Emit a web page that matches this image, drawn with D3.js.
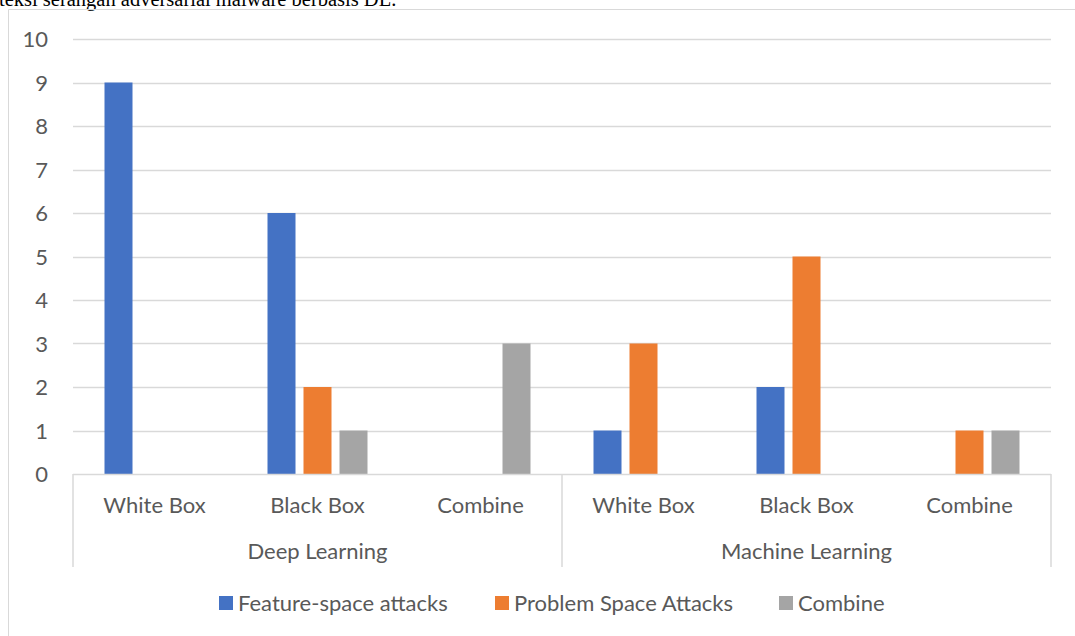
<!DOCTYPE html>
<html>
<head>
<meta charset="utf-8">
<script src="https://cdn.jsdelivr.net/npm/d3@7"></script>
<style>
  html, body { margin: 0; padding: 0; background: #fff; }
  svg { display: block; }
</style>
</head>
<body>
<svg id="chart" width="1075" height="636"></svg>
<script>
// Attack studies grouped by model family and threat model
const groups = ["Deep Learning", "Machine Learning"];
const categories = ["White Box", "Black Box", "Combine", "White Box", "Black Box", "Combine"];
const categoryGroup = [0, 0, 0, 1, 1, 1];
const seriesNames = ["Feature-space attacks", "Problem Space Attacks", "Combine"];
const featureSpace = [9, 6, 0, 1, 2, 0];
const problemSpace = [0, 2, 0, 3, 5, 1];
const combined = [0, 1, 3, 0, 0, 1];
const yTicks = [0, 1, 2, 3, 4, 5, 6, 7, 8, 9, 10];
const colors = ["#4472C4", "#ED7D31", "#A5A5A5"];

const series = [featureSpace, problemSpace, combined];

const svg = d3.select("#chart");
const font = "Lato, 'Open Sans', sans-serif";
const fontSize = 22;
const textColor = "#595959";
const lineColor = "#D9D9D9";

// caption line from the surrounding document, clipped at the top edge
svg.append("text")
  .attr("x", -1).attr("y", 6)
  .attr("font-family", "'Liberation Serif', 'Times New Roman', serif")
  .attr("font-size", 20.5)
  .attr("fill", "#000")
  .text("teksi serangan adversarial malware berbasis DL.");

// chart frame
svg.append("path")
  .attr("d", "M8.5,636 V9.5 H1075")
  .attr("fill", "none")
  .attr("stroke", lineColor)
  .attr("stroke-width", 1);

const plot = { left: 73, right: 1051, top: 39, bottom: 474 };

const x = d3.scaleBand()
  .domain(d3.range(categories.length))
  .range([plot.left, plot.right])
  .paddingInner(0).paddingOuter(0);

const y = d3.scaleLinear().domain([0, 10]).range([plot.bottom, plot.top]);

// horizontal gridlines
svg.append("g")
  .selectAll("line")
  .data(yTicks.filter(t => t > 0))
  .join("line")
  .attr("x1", plot.left).attr("x2", plot.right)
  .attr("y1", d => Math.round(y(d)) + 0.5).attr("y2", d => Math.round(y(d)) + 0.5)
  .attr("stroke", lineColor).attr("stroke-width", 1.5);

// value axis labels
const yAxis = d3.axisLeft(y).tickValues(yTicks).tickSize(0).tickPadding(0);
const yg = svg.append("g").attr("transform", `translate(${plot.left - 25},0)`).call(yAxis);
yg.select(".domain").remove();
yg.selectAll("text")
  .attr("font-family", font).attr("font-size", fontSize)
  .attr("fill", textColor).attr("text-anchor", "end").attr("dy", "0.35em");

// bars: cluster of 3, width 28, gap 8
const barW = x.bandwidth() * 28 / 163;
const step = x.bandwidth() * 36 / 163;
const clusterW = barW * 3 + (step - barW) * 2;

const barData = [];
series.forEach((vals, s) => {
  vals.forEach((v, i) => barData.push({ s, i, v }));
});

svg.append("g")
  .selectAll("rect")
  .data(barData.filter(d => d.v > 0))
  .join("rect")
  .attr("x", d => x(d.i) + (x.bandwidth() - clusterW) / 2 + d.s * step)
  .attr("width", barW)
  .attr("y", d => y(d.v))
  .attr("height", d => y(0) - y(d.v))
  .attr("fill", d => colors[d.s]);

// category axis line
svg.append("line")
  .attr("x1", plot.left).attr("x2", plot.right)
  .attr("y1", plot.bottom + 0.5).attr("y2", plot.bottom + 0.5)
  .attr("stroke", lineColor).attr("stroke-width", 1.5);

// group separators of the two-level axis
const sepX = [plot.left, x(3), plot.right];
svg.append("g")
  .selectAll("line")
  .data(sepX)
  .join("line")
  .attr("x1", d => d).attr("x2", d => d)
  .attr("y1", plot.bottom).attr("y2", 567)
  .attr("stroke", lineColor).attr("stroke-width", 1.5);

// category labels
svg.append("g")
  .selectAll("text")
  .data(categories)
  .join("text")
  .attr("x", (d, i) => x(i) + x.bandwidth() / 2)
  .attr("y", 513)
  .attr("text-anchor", "middle")
  .attr("font-family", font).attr("font-size", fontSize)
  .attr("fill", textColor)
  .text(d => d);

// group labels
svg.append("g")
  .selectAll("text")
  .data(groups)
  .join("text")
  .attr("x", (d, g) => {
    const idx = categoryGroup.map((c, i) => c === g ? i : -1).filter(i => i >= 0);
    return (x(idx[0]) + x(idx[idx.length - 1]) + x.bandwidth()) / 2;
  })
  .attr("y", 559)
  .attr("text-anchor", "middle")
  .attr("font-family", font).attr("font-size", fontSize)
  .attr("fill", textColor)
  .text(d => d);

// legend
const legendX = [219, 495, 779];
const lg = svg.append("g");
seriesNames.forEach((name, s) => {
  lg.append("rect")
    .attr("x", legendX[s]).attr("y", 596)
    .attr("width", 14).attr("height", 14)
    .attr("fill", colors[s]);
  lg.append("text")
    .attr("x", legendX[s] + 19).attr("y", 611)
    .attr("font-family", font).attr("font-size", fontSize)
    .attr("fill", textColor)
    .text(name);
});
</script>
</body>
</html>
